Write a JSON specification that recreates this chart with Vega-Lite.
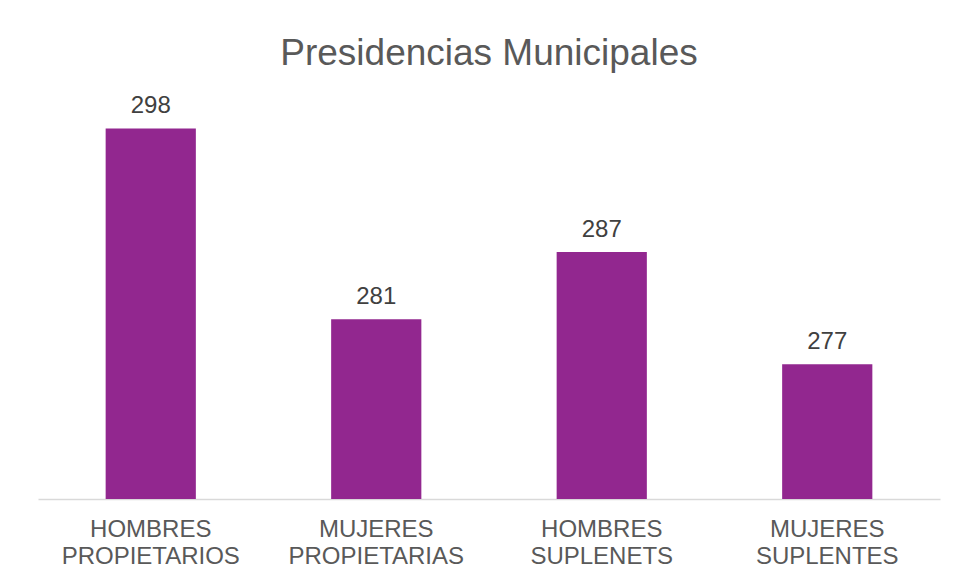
{
  "$schema": "https://vega.github.io/schema/vega-lite/v6.json",
  "autosize": {"type": "none"},
  "padding": {"left": 38, "top": 106, "right": 16, "bottom": 79},
  "width": 902,
  "height": 393,
  "background": "white",
  "config": {
    "font": "Liberation Sans",
    "view": {"stroke": null}
  },
  "title": {
    "text": "Presidencias Municipales",
    "fontSize": 37,
    "fontWeight": "normal",
    "color": "#595959",
    "anchor": "middle",
    "frame": "group",
    "baseline": "alphabetic",
    "offset": -8
  },
  "data": {
    "values": [
      {"categoria": "HOMBRES PROPIETARIOS", "valor": 298},
      {"categoria": "MUJERES PROPIETARIAS", "valor": 281},
      {"categoria": "HOMBRES SUPLENETS", "valor": 287},
      {"categoria": "MUJERES SUPLENTES", "valor": 277}
    ]
  },
  "encoding": {
    "x": {
      "field": "categoria",
      "type": "nominal",
      "sort": null,
      "scale": {"paddingInner": 0.6, "paddingOuter": 0.3},
      "axis": {
        "title": null,
        "labelAngle": 0,
        "labelExpr": "split(datum.label, ' ')",
        "labelFontSize": 24,
        "labelColor": "#595959",
        "labelLineHeight": 27,
        "labelPadding": 18,
        "labelLimit": 300,
        "ticks": false,
        "domainColor": "#d9d9d9",
        "domainWidth": 1.5,
        "grid": false
      }
    },
    "y": {
      "field": "valor",
      "type": "quantitative",
      "scale": {"domain": [265, 300], "zero": false, "nice": false},
      "axis": null
    }
  },
  "layer": [
    {"mark": {"type": "bar", "color": "#92278F", "clip": true}},
    {
      "mark": {"type": "text", "dy": -15, "baseline": "alphabetic", "fontSize": 24, "color": "#404040"},
      "encoding": {"text": {"field": "valor", "type": "quantitative"}}
    }
  ]
}
